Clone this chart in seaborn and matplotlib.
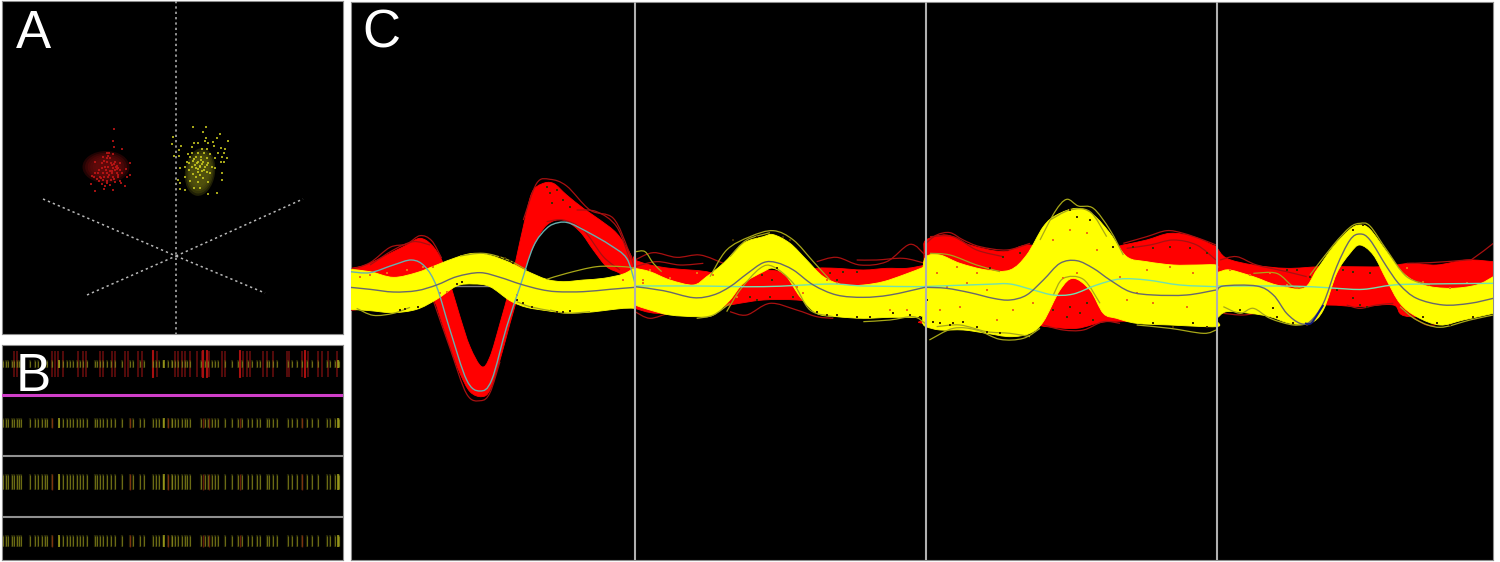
import numpy as np
import matplotlib
matplotlib.use("Agg")
import matplotlib.pyplot as plt
from matplotlib.patches import Ellipse, PathPatch
from matplotlib.path import Path
import seaborn as sns

sns.set_theme(style="white")
plt.rcParams['font.family'] = ['Liberation Sans', 'DejaVu Sans']

W, H = 1500, 562

# ---------- Panel A: cluster points (read in 3x crops) ----------
RED_ORIGIN = (75, 120)
RED_PTS = [(117,27),(115,62),(117,82),(140,88),(115,102),(95,100),(103,100),(85,110),(97,115),(105,115),
 (60,127),(82,130),(95,125),(120,125),(135,128),(165,130),(110,135),(125,138),(90,140),(100,142),(115,145),
 (130,143),(152,148),(80,145),(72,150),(105,152),(120,150),(60,160),(70,160),(85,158),(95,158),(110,160),
 (125,158),(140,160),(165,165),(50,168),(58,172),(75,170),(88,170),(100,172),(115,170),(130,172),(155,170),
 (72,182),(85,180),(97,183),(108,180),(120,185),(135,183),(48,192),(80,192),(90,198),(105,195),(138,190),
 (150,197),(88,208),(115,210),(60,212),(122,140),(118,132),(126,148),(112,152),(102,165),(92,150),(108,130),
 (128,165),(78,175),(66,178),(96,190),(116,178),(136,150),(88,122),(100,108)]
YEL_ORIGIN = (165, 120)
YEL_PTS = [(83,20),(123,22),(115,35),(25,50),(165,42),(122,55),(120,62),(155,55),(188,62),(20,72),(88,70),
 (98,70),(130,68),(145,65),(47,78),(80,82),(112,88),(125,88),(148,78),(168,83),(180,88),(43,90),(70,103),
 (80,100),(100,100),(118,100),(135,103),(160,100),(178,100),(27,108),(42,108),(75,112),(92,110),(108,112),
 (125,115),(150,115),(170,112),(185,115),(65,125),(85,123),(100,125),(115,125),(130,128),(168,125),(178,125),
 (60,140),(90,135),(105,138),(120,140),(140,140),(150,143),(72,150),(100,148),(110,152),(125,155),(170,160),
 (45,145),(85,163),(105,165),(135,160),(60,170),(92,172),(115,175),(40,180),(75,182),(100,185),(130,185),
 (45,190),(170,180),(88,205),(105,205),(45,208),(60,210),(155,218),(128,222),(96,130),(104,142),(110,132),
 (98,155),(88,118),(118,150),(80,140),(126,135),(72,128),(108,120),(94,145)]

AXIS_LINES_A = [((176,1),(176,334)), ((43,199),(176,256)), ((176,256),(303,199)),
                ((87,295),(176,256)), ((176,256),(265,293))]

# ---------- Panel B: tick positions, rows ----------
ROW_Y = [364, 423, 482, 541]
ROW_HALF = [4, 5, 8, 6]
ROW_SEP = [(395, '#d03fc8', 2.2), (456, '#909090', 1.5), (517, '#909090', 1.5)]
RED_TICKS = [14,17,52,55,58,63,78,83,86,100,103,112,115,125,128,138,142,153,157,175,178,182,185,190,197,202,
             203,207,209,222,225,240,243,247,250,263,267,273,287,289,302,305,308,318,322,328,337]
RED_TICKS_BRIGHT = [153,203,207,240,305]
YEL_TICKS = [3,6,8,12,14,17,19,21,30,35,38,42,45,47,52,59,63,67,70,73,77,80,83,87,95,97,100,103,107,111,115,
             122,130,133,140,144,153,156,159,163,168,172,172,175,178,182,185,187,190,201,205,208,212,215,218,
             225,232,238,242,248,252,257,260,267,269,273,277,288,292,297,302,307,312,318,327,330,335,338,339]
YEL_TICKS_BRIGHT = [59,164,338]
RED_TICKS_LOW = [52,130,168,203,209,240,302]

# ---------- Panel C: waveform outlines, read channel by channel from 3x crops ----------
CH_ORIGIN = [(350,170), (630,200), (920,190), (1210,210)]
SEPARATORS = [635, 926, 1217]
BASELINE = 286

C1_RED_UP = [(0,295),(30,290),(60,280),(120,250),(170,225),(210,205),(245,225),(275,270),(300,340),(330,440),(360,530),
             (395,590),(420,560),(450,460),(480,350),(500,260),(520,170),(545,70),(575,42),(610,40),(650,75),(700,115),
             (750,150),(800,190),(840,250),(855,300)]
C1_RED_LOW = [(855,340),(810,310),(770,290),(730,240),(690,185),(640,150),(590,165),(550,230),(520,310),(500,390),
              (480,460),(450,570),(420,660),(395,680),(360,665),(330,610),(300,530),(270,440),(250,390),(200,350),(60,400),(0,420)]
C1_YEL_UP = [(0,298),(60,305),(130,322),(200,308),(260,285),(320,262),(370,250),(420,256),(480,278),(530,303),(590,328),
             (640,335),(700,330),(760,325),(820,312),(855,292)]
C1_YEL_LOW = [(855,415),(820,415),(760,422),(700,428),(640,428),(590,422),(530,412),(480,392),(420,350),(370,342),
              (320,348),(260,388),(200,418),(130,428),(60,422),(0,418)]
C1_YEL_MEAN = [(0,352),(60,358),(130,366),(200,362),(260,345),(320,320),(390,308),(450,322),(510,342),(570,358),(620,365),
               (700,365),(780,358),(855,352)]
C1_RED_MEAN = [(0,305),(60,308),(130,285),(185,270),(225,290),(260,350),(300,480),(350,630),(390,663),(425,630),(470,470),
               (510,350),(550,230),(590,175),(625,158),(660,160),(720,190),(780,225),(830,265),(855,340)]
C1_RED_OUT = [[(0,300),(60,278),(120,232),(170,222),(210,197),(245,212),(275,265)],
              [(60,285),(130,240),(190,215),(240,225)],
              [(250,392),(300,535),(350,672),(392,692),(420,668),(450,575)],
              [(520,150),(560,40),(600,28),(650,48),(720,120),(790,145),(835,240),(855,300)],
              [(590,155),(640,150),(700,180),(760,260),(810,300)],
              [(680,120),(740,125),(800,170),(840,270)],
              [(855,330),(880,350),(900,360)],
              [(0,420),(20,418),(60,390)]]
C1_YEL_OUT = [[(20,415),(70,436),(130,430),(180,412)],
              [(590,328),(650,310),(740,290),(820,290),(855,295)],
              [(600,420),(650,430),(720,425)],
              [(500,395),(540,410),(600,422)],
              [(330,258),(400,250),(470,268),(530,300)]]
C1_SPECK_DARK = [(450,262),(465,265),(480,272),(490,280),(320,342),(335,335),(500,390),(520,400),(545,410),(620,425),(640,425),
                 (660,422),(205,410),(165,418),(150,420),(590,50),(600,70),(620,60),(640,90),(605,100),(660,110)]
C1_SPECK_WARM = [(30,320),(60,315),(110,310),(170,300),(220,290),(250,290),(270,370),(290,365),(500,375),(820,330),(880,340)]

C2_RED_UP = [(10,170),(15,180),(60,195),(120,205),(180,210),(230,215),(300,230),(400,210),(500,220),(560,205),(620,205),(700,210),
             (770,205),(830,205),(888,195)]
C2_RED_LOW = [(888,320),(700,315),(620,325),(560,310),(500,300),(400,300),(300,315),(200,335),(80,340),(15,325),(10,320)]
C2_YEL_UP = [(10,205),(15,205),(60,215),(120,240),(190,255),(230,230),(280,190),(340,130),(400,110),(430,104),(480,130),(530,180),
             (580,230),(640,255),(700,255),(760,245),(820,225),(885,200),(892,195)]
C2_YEL_LOW = [(892,330),(885,345),(850,352),(780,352),(700,355),(620,350),(560,340),(510,290),(470,230),(430,205),(400,215),
              (340,250),(300,300),(250,345),(200,350),(120,345),(60,330),(15,315),(10,310)]
C2_YEL_MEAN = [(15,260),(100,272),(190,293),(250,285),(300,260),(350,222),(400,188),(440,188),(490,210),(550,255),(620,285),
               (700,292),(780,285),(885,262)]
C2_RED_MEAN = [(15,258),(200,258),(400,260),(600,252),(700,258),(885,260)]
C2_RED_OUT = [[(15,180),(70,158),(140,172),(210,165),(280,190)],
              [(560,185),(620,172),(690,195),(770,185),(840,133),(885,165)],
              [(15,335),(60,355),(120,340),(180,345)],
              [(300,335),(350,345),(420,310),(500,330),(560,350),(610,355)],
              [(680,180),(740,180),(820,175),(885,190)],
              [(15,200),(80,185),(150,195),(220,190)]]
C2_YEL_OUT = [[(18,155),(45,155),(70,190),(95,215)],
              [(240,230),(290,150),(360,110),(430,92),(490,120),(550,185),(600,240)],
              [(290,335),(330,270),(390,205),(430,200),(490,250),(540,330),(610,350)],
              [(700,365),(780,360),(850,350),(885,370)],
              [(200,355),(250,345),(300,310)],
              [(300,170),(350,120),(420,98)]]
C2_SPECK_DARK = [(395,225),(425,240),(440,205),(360,290),(380,300),(420,290),(490,290),(560,335),(590,345),(620,345),(680,350),
                 (720,350),(790,340),(840,345),(870,350),(600,220),(640,215),(680,215),(620,240),(310,120),(460,110),(480,120),(380,110)]
C2_SPECK_WARM = [(200,220),(120,235),(60,210),(250,225),(590,240),(500,260),(520,280),(320,290),(780,330),(830,330),(40,240),(620,250)]

C3_RED_UP = [(12,180),(18,150),(80,135),(150,165),(250,185),(330,165),(450,200),(610,165),(680,150),(750,130),(820,140),(888,170)]
C3_RED_LOW = [(888,390),(700,395),(560,395),(470,415),(380,410),(300,400),(18,400),(12,390)]
C3_YEL_UP = [(8,240),(18,200),(60,195),(120,220),(200,240),(270,240),(320,195),(370,110),(410,75),(470,55),(520,75),(570,130),
             (620,200),(680,215),(760,225),(830,225),(888,225),(892,240)]
C3_YEL_LOW = [(892,395),(888,410),(750,405),(650,400),(590,385),(550,370),(510,300),(460,265),(420,300),(370,395),(330,430),
              (270,440),(200,430),(130,420),(60,420),(18,410),(8,400)]
C3_YEL_MEAN = [(18,292),(80,295),(150,308),(220,325),(270,330),(320,315),(370,270),(420,220),(470,212),(520,235),(570,270),
               (630,305),(700,315),(800,315),(888,300)]
C3_RED_MEAN = [(5,290),(200,283),(270,282),(340,300),(400,315),(460,312),(530,285),(600,267),(680,270),(780,285),(888,290)]
C3_RED_OUT = [[(18,160),(50,135),(90,128),(130,150),(180,170),(260,180),(330,160)],
              [(610,160),(680,140),(740,122),(790,130),(850,150),(888,165)],
              [(370,405),(430,420),(490,420),(550,395),(600,400)],
              [(620,175),(690,165),(760,150),(830,165),(888,210)],
              [(30,140),(100,140),(170,180),(250,200)]]
C3_YEL_OUT = [[(360,150),(405,65),(440,28),(475,48),(520,55),(570,120),(610,195)],
              [(28,450),(100,415),(170,420),(240,448),(310,445),(360,415)],
              [(390,90),(450,60),(510,65),(560,140)],
              [(50,410),(120,405),(200,425),(270,430),(330,440)],
              [(650,405),(750,415),(850,430),(888,420)],
              [(30,190),(90,195),(170,225),(240,245)],
              [(400,315),(430,265),(490,268),(540,340)]]
C3_SPECK_DARK = [(100,400),(130,395),(170,410),(200,425),(240,430),(90,405),(60,400),(40,395),(700,400),(760,410),(820,400),(860,410),
                 (470,80),(450,60),(510,90),(580,170),(640,170),(700,175),(750,170),(810,175),(860,190),(210,235),(250,200),(300,190),
                 (450,350),(480,370),(520,390),(440,380),(400,360),(500,340),(20,330)]
C3_SPECK_WARM = [(50,250),(110,230),(170,250),(80,290),(140,280),(200,300),(280,360),(340,340),(120,350),(60,360),(230,390),(600,260),
                 (680,240),(750,230),(820,250),(620,330),(700,340),(800,350),(650,310),(430,265),(470,250),(400,150),(500,130),(530,180),(450,120)]

C4_RED_UP = [(12,110),(18,110),(50,145),(130,165),(230,175),(330,170),(400,170),(520,170),(600,160),(680,165),(770,150),(850,155)]
C4_RED_LOW = [(850,300),(600,320),(550,285),(450,290),(350,285),(200,290),(100,305),(20,285),(12,280)]
C4_YEL_UP = [(8,180),(15,190),(30,185),(60,180),(130,200),(200,225),(280,235),(320,180),(370,110),(420,58),(450,45),(480,58),
             (530,125),(580,190),(640,225),(720,235),(800,225),(850,200)]
C4_YEL_LOW = [(850,310),(760,330),(690,345),(620,320),(570,280),(530,210),(490,135),(450,105),(420,130),(380,190),(340,300),
              (300,340),(240,340),(180,320),(120,310),(50,305),(20,325),(8,330)]
C4_YEL_MEAN = [(20,245),(40,228),(140,228),(190,255),(230,310),(270,340),(300,335),(340,280),(380,170),(420,90),(450,72),(480,90),
               (530,170),(570,225),(620,265),(700,285),(780,280),(850,265)]
C4_RED_MEAN = [(20,228),(200,228),(300,230),(380,235),(460,238),(550,225),(650,222),(850,220)]
C4_BLUE_SEG = [(285,340),(305,338),(340,285)]
C4_RED_OUT = [[(30,150),(80,140),(140,165),(230,185),(290,200)],
              [(590,160),(660,158),(770,150),(790,145),(850,100)],
              [(40,310),(100,315),(160,305)],
              [(410,285),(450,295),(500,285),(550,280)],
              [(580,300),(650,345),(700,335)]]
C4_YEL_OUT = [[(300,195),(370,105),(420,52),(450,40),(480,48),(530,120),(590,200),(660,225)],
              [(40,290),(90,310),(130,295),(180,325),(250,345),(300,340)],
              [(570,290),(620,330),(690,352),(780,330),(850,315)],
              [(130,190),(200,190),(250,230),(280,230)]]
C4_SPECK_DARK = [(190,295),(90,300),(200,320),(250,340),(290,345),(640,320),(680,340),(720,345),(790,320),(450,285),(470,290),
                 (400,180),(430,185),(480,190),(260,180),(300,200),(230,180),(460,45),(430,60),(380,240),(430,265)]
C4_SPECK_WARM = [(180,190),(230,225),(260,235),(590,175),(640,215),(720,235),(770,220),(60,180),(120,195)]

CHANNELS = [
    (C1_RED_UP, C1_RED_LOW, C1_YEL_UP, C1_YEL_LOW, C1_YEL_MEAN, C1_RED_MEAN, C1_RED_OUT, C1_YEL_OUT, '#67b0b0', C1_SPECK_DARK, C1_SPECK_WARM),
    (C2_RED_UP, C2_RED_LOW, C2_YEL_UP, C2_YEL_LOW, C2_YEL_MEAN, C2_RED_MEAN, C2_RED_OUT, C2_YEL_OUT, '#70e0b0', C2_SPECK_DARK, C2_SPECK_WARM),
    (C3_RED_UP, C3_RED_LOW, C3_YEL_UP, C3_YEL_LOW, C3_YEL_MEAN, C3_RED_MEAN, C3_RED_OUT, C3_YEL_OUT, '#70e0b0', C3_SPECK_DARK, C3_SPECK_WARM),
    (C4_RED_UP, C4_RED_LOW, C4_YEL_UP, C4_YEL_LOW, C4_YEL_MEAN, C4_RED_MEAN, C4_RED_OUT, C4_YEL_OUT, '#70e0b0', C4_SPECK_DARK, C4_SPECK_WARM),
]

LABELS = [('A', 33, 48), ('B', 33, 391), ('C', 381, 48)]


def panel(fig, x0, y0, x1, y1):
    ax = fig.add_axes([x0 / W, 1 - y1 / H, (x1 - x0) / W, (y1 - y0) / H])
    ax.set_xlim(x0, x1)
    ax.set_ylim(y1, y0)
    ax.set_facecolor('black')
    ax.set_xticks([])
    ax.set_yticks([])
    for s in ax.spines.values():
        s.set_color('#8c8c8c')
        s.set_linewidth(0.8)
    return ax


def conv(points, origin):
    return [(origin[0] + p[0] / 3, origin[1] + p[1] / 3) for p in points]


def smooth_path_parts(pts):
    """Vertices and codes of a smooth curve that passes through the read points."""
    v, c = [], []
    n = len(pts)
    for i in range(n - 1):
        p0 = pts[max(i - 1, 0)]
        p1 = pts[i]
        p2 = pts[i + 1]
        p3 = pts[min(i + 2, n - 1)]
        c1 = (p1[0] + (p2[0] - p0[0]) / 6, p1[1] + (p2[1] - p0[1]) / 6)
        c2 = (p2[0] - (p3[0] - p1[0]) / 6, p2[1] - (p3[1] - p1[1]) / 6)
        v += [c1, c2, p2]
        c += [Path.CURVE4] * 3
    return v, c


def draw_curve(ax, pts, color, lw, zorder):
    v, c = smooth_path_parts(pts)
    path = Path([pts[0]] + v, [Path.MOVETO] + c)
    ax.add_patch(PathPatch(path, facecolor='none', edgecolor=color, lw=lw, zorder=zorder))


def draw_band(ax, up, low, color, zorder):
    v1, c1 = smooth_path_parts(up)
    v2, c2 = smooth_path_parts(low)
    verts = [up[0]] + v1 + [low[0]] + v2 + [up[0]]
    codes = [Path.MOVETO] + c1 + [Path.LINETO] + c2 + [Path.CLOSEPOLY]
    ax.add_patch(PathPatch(Path(verts, codes), facecolor=color, edgecolor=color, lw=0.6, zorder=zorder))


fig = plt.figure(figsize=(W / 100, H / 100), dpi=100, facecolor='white')
axA = panel(fig, 2, 1, 343, 334)
axB = panel(fig, 2, 345, 343, 560)
axC = panel(fig, 351, 2, 1493, 560)

# --- A ---
for (a, b) in AXIS_LINES_A:
    axA.plot([a[0], b[0]], [a[1], b[1]], color='#b8b8b8', lw=1.1, ls=(0, (1.5, 2)), zorder=4)
for k in np.linspace(1.0, 0.45, 6):
    axA.add_patch(Ellipse((106, 167), 47 * k, 32 * k, facecolor='#6a0c0c', alpha=0.32, lw=0, zorder=1))
for k in np.linspace(1.0, 0.6, 5):
    axA.add_patch(Ellipse((200, 172), 30 * k, 48 * k, angle=8, facecolor='#5c5c10', alpha=0.34, lw=0, zorder=1))
rx = [RED_ORIGIN[0] + p[0] / 3 for p in RED_PTS]
ry = [RED_ORIGIN[1] + p[1] / 3 for p in RED_PTS]
yx = [YEL_ORIGIN[0] + p[0] / 3 for p in YEL_PTS]
yy = [YEL_ORIGIN[1] + p[1] / 3 for p in YEL_PTS]
sns.scatterplot(x=rx, y=ry, ax=axA, color='#c01616', marker='s', s=3.2, linewidth=0, alpha=0.85, zorder=3)
sns.scatterplot(x=yx, y=yy, ax=axA, color='#d0d020', marker='s', s=3.0, linewidth=0, alpha=0.8, zorder=3)

# --- B ---
axB.vlines(RED_TICKS, ROW_Y[0] - 13, ROW_Y[0] + 13, color='#7a1010', lw=1.3, alpha=0.75, zorder=1)
axB.vlines(RED_TICKS_BRIGHT, ROW_Y[0] - 14, ROW_Y[0] + 14, color='#b81010', lw=1.5, alpha=0.85, zorder=1)
for i, (yc, hw) in enumerate(zip(ROW_Y, ROW_HALF)):
    axB.vlines(YEL_TICKS, yc - hw, yc + hw, color='#6c6c14', lw=1.6, alpha=0.3, zorder=2)
    axB.vlines(YEL_TICKS, yc - hw + 1, yc + hw - 1, color='#84841a', lw=0.8, alpha=0.75, zorder=2)
    axB.vlines(YEL_TICKS_BRIGHT, yc - hw, yc + hw, color='#a8a81c', lw=1.4, alpha=0.7, zorder=2)
    if i > 0:
        axB.vlines(RED_TICKS_LOW, yc - hw, yc + hw, color='#80200e', lw=1.0, alpha=0.75, zorder=3)
for (y, c, lw) in ROW_SEP:
    axB.axhline(y, color=c, lw=lw, zorder=4)

# --- C ---
axC.axhline(BASELINE, color='#7a7a7a', lw=1, zorder=1)
for (origin, ch) in zip(CH_ORIGIN, CHANNELS):
    r_up, r_low = ch[0], ch[1]
    draw_band(axC, conv(r_up, origin), conv(r_low, origin), '#ff0000', 2)
    for tr in ch[6]:
        draw_curve(axC, conv(tr, origin), '#a81010', 0.9, 3)
for (origin, ch) in zip(CH_ORIGIN, CHANNELS):
    y_up, y_low = ch[2], ch[3]
    draw_band(axC, conv(y_up, origin), conv(y_low, origin), '#ffff00', 4)
    for tr in ch[7]:
        draw_curve(axC, conv(tr, origin), '#a8a818', 0.9, 5)
for (origin, ch) in zip(CH_ORIGIN, CHANNELS):
    dark = conv(ch[9], origin)
    warm = conv(ch[10], origin)
    sns.scatterplot(x=[p[0] for p in dark], y=[p[1] for p in dark], ax=axC, color='#402c00',
                    marker='s', s=2.2, linewidth=0, zorder=5)
    sns.scatterplot(x=[p[0] for p in warm], y=[p[1] for p in warm], ax=axC, color='#f07010',
                    marker='s', s=2.2, linewidth=0, zorder=5)
for (origin, ch) in zip(CH_ORIGIN, CHANNELS):
    draw_curve(axC, conv(ch[5], origin), ch[8], 1.0, 6)
    draw_curve(axC, conv(ch[4], origin), '#68686e', 1.0, 7)
draw_curve(axC, conv(C4_BLUE_SEG, CH_ORIGIN[3]), '#101880', 1.4, 7)
for x in SEPARATORS:
    axC.axvline(x, color='#b0b0b0', lw=1.5, zorder=8)
axC.set_xlim(351, 1493)
axC.set_ylim(560, 2)
axA.set_xlim(2, 343)
axA.set_ylim(334, 1)

# --- panel letters ---
for (s, x, y) in LABELS:
    fig.text(x / W, 1 - y / H, s, color='white', fontsize=38, ha='center', va='baseline',
             family=['Liberation Sans', 'DejaVu Sans'], zorder=20)

fig.savefig('out.png', dpi=100, facecolor='white')
